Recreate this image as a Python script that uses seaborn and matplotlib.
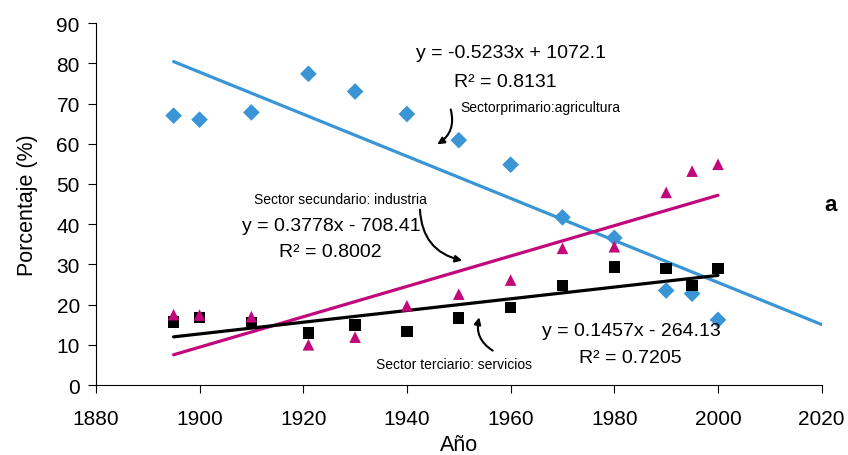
import numpy as np
import pandas as pd
import matplotlib
matplotlib.use("Agg")
import matplotlib.pyplot as plt
import seaborn as sns

# Datos
anios = [1895, 1900, 1910, 1921, 1930, 1940, 1950, 1960, 1970, 1980, 1990, 1995, 2000]
agricultura = [67.0, 66.0, 67.8, 77.4, 73.0, 67.4, 60.9, 54.8, 41.7, 36.6, 23.5, 22.7, 16.2]
industria = [17.5, 17.4, 17.0, 10.0, 11.9, 19.7, 22.6, 26.1, 34.0, 34.4, 47.9, 53.2, 54.9]
servicios = [15.7, 16.8, 15.4, 12.9, 14.9, 13.3, 16.7, 19.3, 24.7, 29.4, 29.0, 24.7, 29.0]

# coeficientes de las lineas de tendencia (pendiente, ordenada) y su rango
tend_agri = (-0.5233, 1072.1)
tend_ind = (0.3778, -708.41)
tend_serv = (0.1457, -264.13)
rango_agri = [1895, 2020]
rango_ind = [1895, 2000]
rango_serv = [1895, 2000]

azul = "#3a95d6"
magenta = "#c2077b"
negro = "#000000"

sns.set_style("ticks")
plt.rcParams['font.family'] = ['Liberation Sans', 'DejaVu Sans']
plt.rcParams['text.color'] = 'black'
plt.rcParams['axes.labelcolor'] = 'black'
plt.rcParams['xtick.color'] = 'black'
plt.rcParams['ytick.color'] = 'black'

fig = plt.figure(figsize=(8.48, 4.56), dpi=100)
ax = fig.add_axes([0.113, 0.1535, 0.856, 0.7935])

df = pd.DataFrame({"anio": anios, "agri": agricultura, "ind": industria, "serv": servicios})


def tendencia(coef, rango):
    xs = np.array(rango, dtype=float)
    return pd.DataFrame({"x": xs, "y": coef[0] * xs + coef[1]})


sns.lineplot(data=tendencia(tend_agri, rango_agri), x="x", y="y", color=azul, lw=2.3, ax=ax)
sns.lineplot(data=tendencia(tend_ind, rango_ind), x="x", y="y", color=magenta, lw=2.3, ax=ax)
sns.lineplot(data=tendencia(tend_serv, rango_serv), x="x", y="y", color=negro, lw=2.3, ax=ax)

sns.scatterplot(data=df, x="anio", y="agri", marker="D", s=72, color=azul, edgecolor="none", ax=ax, zorder=3)
sns.scatterplot(data=df, x="anio", y="serv", marker="s", s=68, color=negro, edgecolor="none", ax=ax, zorder=3)
sns.scatterplot(data=df, x="anio", y="ind", marker="^", s=70, color=magenta, edgecolor="none", ax=ax, zorder=4)

ax.set_xlim(1880, 2020)
ax.set_ylim(0, 90)
ax.set_xticks(range(1880, 2021, 20))
ax.set_yticks(range(0, 91, 10))
ax.tick_params(labelsize=15, length=5.5, width=0.8, colors="black")
ax.tick_params(axis="x", pad=12)
ax.tick_params(axis="y", pad=6)
for s in ["top", "right"]:
    ax.spines[s].set_visible(False)
for s in ["left", "bottom"]:
    ax.spines[s].set_linewidth(0.8)
    ax.spines[s].set_color("black")
ax.set_xlabel("Año", fontsize=15.5, labelpad=4)
ax.set_ylabel("Porcentaje (%)", fontsize=15.5, labelpad=13)

# ecuaciones
ax.text(1960, 82.8, "y = -0.5233x + 1072.1", ha="center", va="center", fontsize=14)
ax.text(1959, 75.4, "R² = 0.8131", ha="center", va="center", fontsize=14)
ax.text(1925.5, 39.6, "y = 0.3778x - 708.41", ha="center", va="center", fontsize=14)
ax.text(1925.2, 33.1, "R² = 0.8002", ha="center", va="center", fontsize=14)
ax.text(1983.3, 13.5, "y = 0.1457x - 264.13", ha="center", va="center", fontsize=14)
ax.text(1983.1, 6.9, "R² = 0.7205", ha="center", va="center", fontsize=14)

# etiquetas de sectores con flechas
ax.text(1950.3, 69.2, "Sectorprimario:agricultura", ha="left", va="center", fontsize=10)
ax.annotate("", xy=(1945.4, 59.5), xytext=(1948.3, 69.2),
            arrowprops=dict(arrowstyle="-|>", color="black", lw=1.5,
                            connectionstyle="arc3,rad=-0.4"))
ax.text(1927.2, 46.3, "Sector secundario: industria", ha="center", va="center", fontsize=10)
ax.annotate("", xy=(1951.2, 30.8), xytext=(1942.5, 44.3),
            arrowprops=dict(arrowstyle="-|>", color="black", lw=1.5,
                            connectionstyle="arc3,rad=0.4"))
ax.text(1949.1, 5.2, "Sector terciario: servicios", ha="center", va="center", fontsize=10)
ax.annotate("", xy=(1954.1, 17.5), xytext=(1957, 8.2),
            arrowprops=dict(arrowstyle="-|>", color="black", lw=1.5,
                            connectionstyle="arc3,rad=-0.4"))

ax.text(2021.7, 45, "a", ha="center", va="center", fontsize=16, fontweight="bold", clip_on=False)

fig.savefig("out.png", dpi=100)
